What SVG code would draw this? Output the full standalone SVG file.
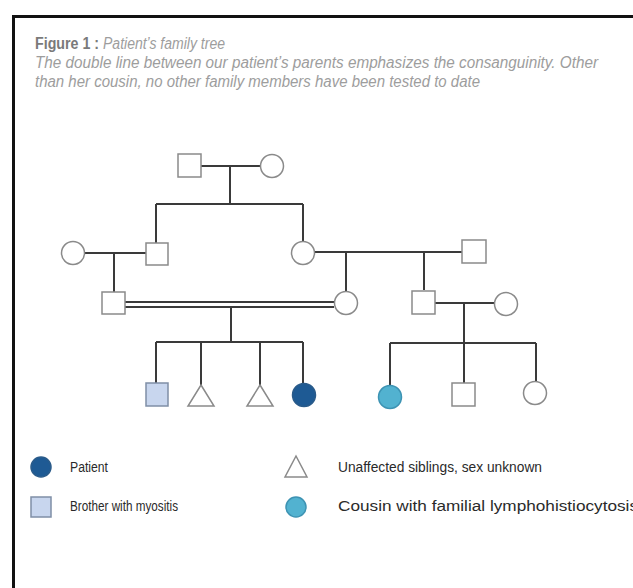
<svg xmlns="http://www.w3.org/2000/svg" width="633" height="588" viewBox="0 0 633 588">
<style>
.cap{font-family:"Liberation Sans Narrow","Liberation Sans",Arial,sans-serif;font-size:16px;fill:#9d9d9d;font-style:italic}
.capb{font-family:"Liberation Sans Narrow","Liberation Sans",Arial,sans-serif;font-size:16px;fill:#7a7a7a;font-weight:bold}
.ln{stroke:#3a3a3a;stroke-width:2;fill:none}
.sh{stroke:#8a8a8a;stroke-width:1.5;fill:#fff}
.bro{fill:#c8d6ee;stroke:#7f8ea6;stroke-width:1.5}
.pat{fill:#1e5a94;stroke:#2a5b8a;stroke-width:1.5}
.cou{fill:#52b2d0;stroke:#3d93b3;stroke-width:1.5}
.leg{font-family:"Liberation Sans",Arial,sans-serif;font-size:14px;fill:#2a2a2a}
</style>
<rect x="0" y="0" width="633" height="588" fill="#fff"/>
<path d="M13.5 600 V16.5 H640" fill="none" stroke="#111" stroke-width="3"/>
<text class="capb" x="35" y="49" textLength="64" lengthAdjust="spacingAndGlyphs">Figure 1 :</text>
<text class="cap" x="103" y="49" textLength="122" lengthAdjust="spacingAndGlyphs">Patient’s family tree</text>
<text class="cap" x="35" y="68" textLength="563" lengthAdjust="spacingAndGlyphs">The double line between our patient’s parents emphasizes the consanguinity. Other</text>
<text class="cap" x="35" y="87" textLength="445" lengthAdjust="spacingAndGlyphs">than her cousin, no other family members have been tested to date</text>
<g id="connectors">
<path class="ln" d="M201 166 H260 M230 166 V204 M156 204 H303 M156 204 V243 M303 204 V241"/>
<path class="ln" d="M85 253 H146 M114 253 V292"/>
<path class="ln" d="M315 252 H462 M346 252 V291 M424 252 V290"/>
<path class="ln" stroke-width="1.6" d="M125 302 H334 M125 307 H334"/>
<path class="ln" d="M231 307 V342 M156 342 H303 M156 342 V383 M201 342 V385 M260 342 V385 M303 342 V383"/>
<path class="ln" d="M435 303 H494 M464 303 V343 M390 343 H536 M390 343 V385 M464 343 V383 M536 343 V381"/>
</g>
<g id="gf"><rect class="sh" x="178" y="154" width="23" height="23"/></g>
<g id="gm"><circle class="sh" cx="272" cy="166" r="11.5"/></g>
<g id="uncle-wife"><circle class="sh" cx="73" cy="253" r="11.5"/></g>
<g id="uncle"><rect class="sh" x="146" y="243" width="22" height="22"/></g>
<g id="aunt"><circle class="sh" cx="303" cy="253" r="11.5"/></g>
<g id="aunt-husband"><rect class="sh" x="462" y="240" width="24" height="23"/></g>
<g id="father"><rect class="sh" x="102" y="292" width="23" height="22"/></g>
<g id="mother"><circle class="sh" cx="346" cy="303" r="11.5"/></g>
<g id="cousin-father"><rect class="sh" x="412" y="291" width="23" height="23"/></g>
<g id="cousin-mother"><circle class="sh" cx="506" cy="304" r="11.5"/></g>
<g id="brother"><rect class="bro" x="146" y="383" width="22" height="23"/></g>
<g id="sib1"><path class="sh" d="M201 385 L214 406 H188 Z"/></g>
<g id="sib2"><path class="sh" d="M260 385 L273 406 H247 Z"/></g>
<g id="patient"><circle class="pat" cx="304" cy="395" r="11.5"/></g>
<g id="cousin"><circle class="cou" cx="390" cy="397" r="11.5"/></g>
<g id="cousin-brother"><rect class="sh" x="452" y="383" width="23" height="23"/></g>
<g id="cousin-sister"><circle class="sh" cx="535" cy="393" r="11.5"/></g>
<g id="legend">
<circle class="pat" cx="41" cy="467" r="10"/>
<text class="leg" x="70" y="472" textLength="38" lengthAdjust="spacingAndGlyphs">Patient</text>
<path class="sh" d="M296 456 L307 477 H285 Z"/>
<text class="leg" x="338" y="472" textLength="204" lengthAdjust="spacingAndGlyphs">Unaffected siblings, sex unknown</text>
<rect class="bro" x="31" y="497" width="20" height="20"/>
<text class="leg" x="70" y="511" textLength="108" lengthAdjust="spacingAndGlyphs">Brother with myositis</text>
<circle class="cou" cx="296" cy="507" r="10"/>
<text class="leg" x="338" y="511" textLength="300" lengthAdjust="spacingAndGlyphs">Cousin with familial lymphohistiocytosis</text>
</g>
</svg>
